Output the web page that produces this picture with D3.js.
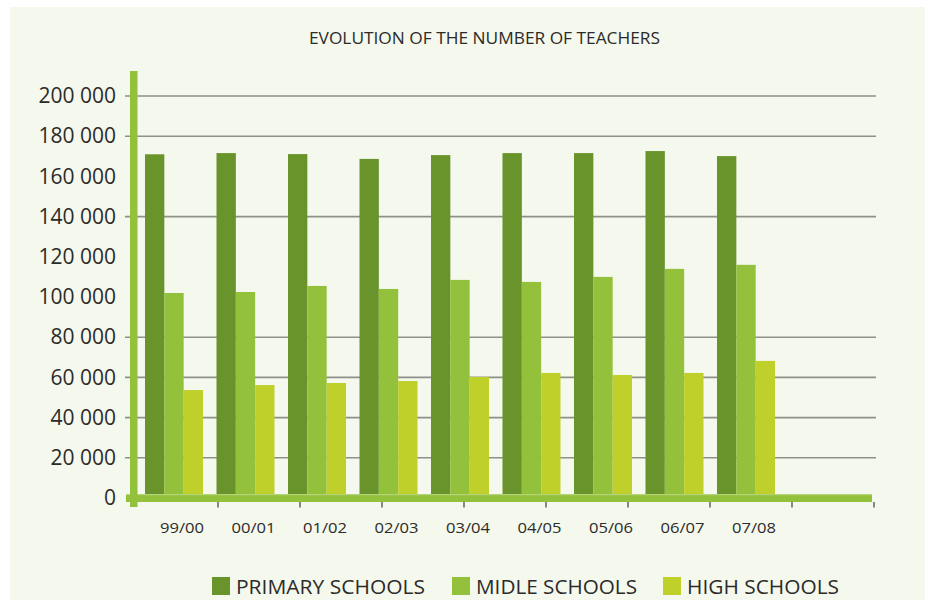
<!DOCTYPE html>
<html>
<head>
<meta charset="utf-8">
<script src="https://cdn.jsdelivr.net/npm/d3@7"></script>
<style>
  html, body { margin: 0; padding: 0; background: #ffffff; }
  svg { display: block; }
  text { font-family: "Open Sans", "Noto Sans", sans-serif; fill: #2b2b2b; }
</style>
</head>
<body>
<svg id="chart" width="929" height="600"></svg>
<script>
// ---- data ----
const title = "EVOLUTION OF THE NUMBER OF TEACHERS";
const categories = ["99/00", "00/01", "01/02", "02/03", "03/04", "04/05", "05/06", "06/07", "07/08"];
const seriesNames = ["PRIMARY SCHOOLS", "MIDLE SCHOOLS", "HIGH SCHOOLS"];
const primary = [171000, 171600, 171100, 168700, 170600, 171600, 171600, 172600, 170100];
const middle  = [102000, 102500, 105500, 104000, 108500, 107500, 110000, 114000, 116000];
const high    = [53700, 56200, 57200, 58200, 60200, 62200, 61200, 62200, 68200];
const yTicks = [0, 20000, 40000, 60000, 80000, 100000, 120000, 140000, 160000, 180000, 200000];
const gridValues = [20000, 40000, 60000, 80000, 140000, 180000, 200000];
const colors = ["#69932b", "#93c13b", "#bfd02a"];

const values = [primary, middle, high];

const svg = d3.select("#chart");

// background panel
svg.append("rect").attr("x", 10).attr("y", 7).attr("width", 915).attr("height", 593).attr("fill", "#f5f8ec");

// scales
const y = d3.scaleLinear().domain([0, 200000]).range([498, 96]);
const x = d3.scaleBand().domain(categories).range([136, 136 + 9 * 71.5]).paddingInner(0).paddingOuter(0);
const xs = d3.scaleBand().domain(seriesNames).range([9, 67]);
const xAxisScale = d3.scaleBand().domain(categories).range([136, 874]);

// title
svg.append("text")
  .attr("x", 484.5).attr("y", 44)
  .attr("text-anchor", "middle")
  .attr("font-size", 17)
  .attr("textLength", 351).attr("lengthAdjust", "spacingAndGlyphs")
  .text(title);

// gridlines
svg.append("g").selectAll("line").data(gridValues).join("line")
  .attr("x1", 125).attr("x2", 876)
  .attr("y1", d => y(d)).attr("y2", d => y(d))
  .attr("stroke", "#8e9189").attr("stroke-width", 1.6);

// bars
const groups = svg.append("g").selectAll("g").data(categories).join("g")
  .attr("transform", d => `translate(${x(d)},0)`);
groups.selectAll("rect").data((d, i) => seriesNames.map((s, j) => ({ s, v: values[j][i], j })))
  .join("rect")
  .attr("x", d => xs(d.s))
  .attr("width", xs.bandwidth())
  .attr("y", d => y(d.v))
  .attr("height", d => y(0) - y(d.v))
  .attr("fill", d => colors[d.j]);

// x axis band (thick green)
svg.append("rect").attr("x", 126).attr("y", 495).attr("width", 746).attr("height", 7).attr("fill", "#93c13b");
svg.append("rect").attr("x", 126).attr("y", 494).attr("width", 746).attr("height", 1.2).attr("fill", "#b5d47a");

// y axis bar (thick green vertical)
svg.append("rect").attr("x", 130).attr("y", 71).attr("width", 7.5).attr("height", 436).attr("fill", "#93c13b");

// tick marks under x axis at band boundaries
svg.append("g").selectAll("line").data(categories).join("line")
  .attr("x1", d => xAxisScale(d) + xAxisScale.step())
  .attr("x2", d => xAxisScale(d) + xAxisScale.step())
  .attr("y1", 502).attr("y2", 507.5)
  .attr("stroke", "#55584f").attr("stroke-width", 1.4);

// x labels
svg.append("g").selectAll("text").data(categories).join("text")
  .attr("x", d => x(d) + 46)
  .attr("y", 533)
  .attr("text-anchor", "middle")
  .attr("font-size", 15)
  .attr("textLength", 44).attr("lengthAdjust", "spacingAndGlyphs")
  .text(d => d);

// y axis labels
const fmt = d => d3.format(",")(d).replace(/,/g, " ");
const yAxis = svg.append("g").attr("transform", "translate(116,0)")
  .call(d3.axisLeft(y).tickValues(yTicks).tickFormat(fmt).tickSize(0).tickPadding(0));
yAxis.select(".domain").remove();
yAxis.selectAll("text")
  .attr("font-size", 21)
  .attr("font-family", "'Open Sans', 'Noto Sans', sans-serif")
  .attr("fill", "#2b2b2b");

// legend
const legendX = [212, 452, 663];
const legendLen = [189, 161, 152];
const lg = svg.append("g").selectAll("g").data(seriesNames).join("g")
  .attr("transform", (d, i) => `translate(${legendX[i]},0)`);
lg.append("rect").attr("x", 0).attr("y", 577).attr("width", 18).attr("height", 18)
  .attr("fill", (d, i) => colors[i]);
lg.append("text").attr("x", 24).attr("y", 594)
  .attr("font-size", 20)
  .attr("textLength", (d, i) => legendLen[i]).attr("lengthAdjust", "spacingAndGlyphs")
  .text(d => d);
</script>
</body>
</html>
